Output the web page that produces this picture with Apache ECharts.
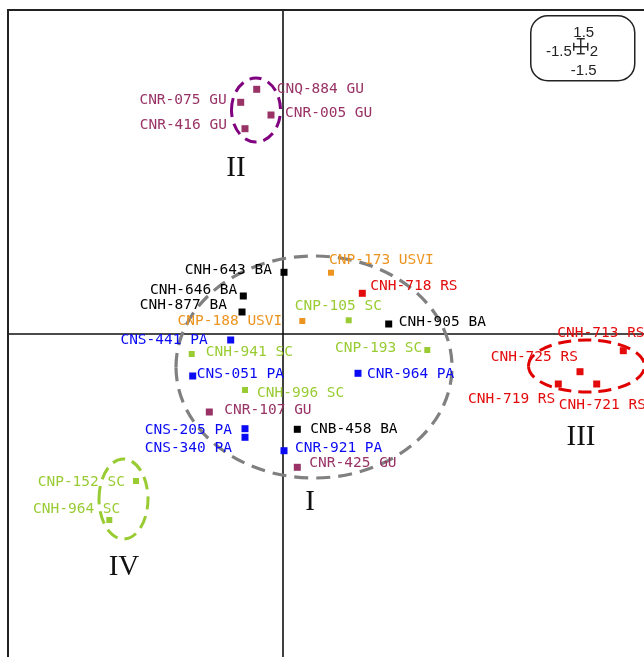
<!DOCTYPE html>
<html><head><meta charset="utf-8">
<script src="https://cdn.jsdelivr.net/npm/echarts@6/dist/echarts.min.js"></script>
<style>html,body{margin:0;padding:0;background:#fff}#c{width:644px;height:657px}</style>
</head><body><div id="c"></div>
<script>
// sample names per region group
const gu = ['CNQ-884 GU','CNR-075 GU','CNR-005 GU','CNR-416 GU','CNR-107 GU','CNR-425 GU'];
const guX = [-0.263,-0.423,-0.12,-0.38,-0.737,0.143];
const guY = [2.447,2.317,2.19,2.053,-0.78,-1.333];

const ba = ['CNH-643 BA','CNH-646 BA','CNH-877 BA','CNH-905 BA','CNB-458 BA'];
const baX = [0.01,-0.397,-0.41,1.057,0.143];
const baY = [0.617,0.38,0.22,0.10,-0.953];

const usvi = ['CNP-173 USVI','CNP-188 USVI'];
const usviX = [0.48,0.193];
const usviY = [0.613,0.13];

const rs = ['CNH-718 RS','CNH-713 RS','CNH-725 RS','CNH-719 RS','CNH-721 RS'];
const rsX = [0.793,3.403,2.97,2.753,3.137];
const rsY = [0.407,-0.167,-0.377,-0.5,-0.5];

const sc = ['CNP-105 SC','CNH-941 SC','CNP-193 SC','CNH-996 SC','CNP-152 SC','CNH-964 SC'];
const scX = [0.657,-0.913,1.443,-0.38,-1.47,-1.737];
const scY = [0.137,-0.2,-0.16,-0.56,-1.47,-1.86];

const pa = ['CNS-441 PA','CNS-051 PA','CNR-964 PA','CNS-205 PA','CNS-340 PA','CNR-921 PA'];
const paX = [-0.523,-0.903,0.75,-0.38,-0.38,0.01];
const paY = [-0.06,-0.42,-0.393,-0.947,-1.033,-1.167];

// cluster ellipses: centre x, centre y, radius x, radius y
const clusterNames = ['I','II','III','IV'];
const clusterCX = [0.31,-0.27,3.035,-1.595];
const clusterCY = [-0.33,2.24,-0.32,-1.65];
const clusterRX = [1.38,0.245,0.58,0.245];
const clusterRY = [1.11,0.32,0.26,0.40];
// cluster numeral positions
const numeralX = [0.27,-0.47,2.98,-1.59];
const numeralY = [-1.68,1.66,-1.03,-2.33];

// inset scale labels
const insetTop = '1.5', insetLeft = '-1.5', insetRight = '2', insetBottom = '-1.5';

// ---- styling (label placement in px) ----
const labelLayout = {
 'CNQ-884 GU':['left',20,0],'CNR-075 GU':['right',-14,-2],'CNR-005 GU':['left',14,-2],'CNR-416 GU':['right',-18,-3],
 'CNR-107 GU':['left',15,-2],'CNR-425 GU':['left',12,-4],
 'CNH-643 BA':['right',-12,-2],'CNH-646 BA':['right',-6,-6],'CNH-877 BA':['right',-15,-7],'CNH-905 BA':['left',10,-2],'CNB-458 BA':['left',13,0],
 'CNP-173 USVI':['left',-2,-12],'CNP-188 USVI':['right',-20,0],
 'CNH-718 RS':['left',8,-7],'CNH-713 RS':['left',-66,-17],'CNH-725 RS':['right',-2,-14],'CNH-719 RS':['right',-3,15],'CNH-721 RS':['left',-38,21],
 'CNP-105 SC':['left',-54,-14],'CNH-941 SC':['left',14,-2],'CNP-193 SC':['right',-5,-2],'CNH-996 SC':['left',12,3],'CNP-152 SC':['right',-11,1],'CNH-964 SC':['right',11,-11],
 'CNS-441 PA':['right',-23,0],'CNS-051 PA':['left',4,-2],'CNR-964 PA':['left',9,1],'CNS-205 PA':['right',-13,2],'CNS-340 PA':['right',-13,11],'CNR-921 PA':['left',11,-2]
};
const groupColor = {gu:'#993366', ba:'#000000', usvi:'#EC9420', rs:'#E30B0B', sc:'#99CC33', pa:'#0A0AF5'};
const ellipseColor = ['#808080','#800080','#E00000','#99CC33'];

function mk(names, xs, ys, color, size){
  return {
    type:'scatter', symbol:'rect', symbolSize:size, itemStyle:{color:color, opacity:1}, z:5,
    data: names.map((n,i)=>{
      const L = labelLayout[n];
      return {name:n, value:[xs[i],ys[i]], label:{show:true, formatter:n, position:'inside', align:L[0], verticalAlign:'middle', offset:[L[1],L[2]], color:color, opacity:1, fontFamily:'DejaVu Sans Mono', fontSize:14.5}};
    }),
    emphasis:{disabled:true},
    animation:false
  };
}

const insetFont = '15px "Liberation Sans"';
const chart = echarts.init(document.getElementById('c'), null, {renderer:'canvas'});
const option = {
  animation:false,
  grid:{left:8, top:10, width:720, height:720, outerBoundsMode:'none', containLabel:false, show:false},
  xAxis:{type:'value', min:-2.75, max:4.45, axisLine:{onZero:true, lineStyle:{color:'#111', width:1.6}}, axisTick:{show:false}, axisLabel:{show:false}, splitLine:{show:false}},
  yAxis:{type:'value', min:-3.96, max:3.24, axisLine:{onZero:true, lineStyle:{color:'#111', width:1.6}}, axisTick:{show:false}, axisLabel:{show:false}, splitLine:{show:false}},
  series:[
    {
      type:'custom', z:3,
      data: clusterNames.map((n,i)=>[clusterCX[i],clusterCY[i],clusterRX[i],clusterRY[i],i]),
      renderItem:function(params, api){
        const c = api.coord([api.value(0), api.value(1)]);
        const s = api.size([api.value(2), api.value(3)]);
        const i = api.value(4);
        const w = i===0 ? 3.2 : 3;
        const dash = i===0 ? [14,8] : (i===1 ? [12,7] : [13,7]);
        return {type:'ellipse', shape:{cx:c[0], cy:c[1], rx:s[0], ry:s[1]},
          style:{fill:'none', stroke:ellipseColor[i], lineWidth:w, lineDash:dash}};
      },
      animation:false
    },
    {
      type:'scatter', symbolSize:0, z:4, itemStyle:{opacity:1},
      data: clusterNames.map((n,i)=>({name:n, value:[numeralX[i],numeralY[i]]})),
      label:{show:true, position:'inside', formatter:p=>p.name, fontFamily:'Liberation Serif', fontSize:29, color:'#111'},
      animation:false
    },
    mk(gu, guX, guY, groupColor.gu, 7),
    mk(ba, baX, baY, groupColor.ba, 7),
    mk(usvi, usviX, usviY, groupColor.usvi, 6),
    mk(rs, rsX, rsY, groupColor.rs, 7),
    mk(sc, scX, scY, groupColor.sc, 6),
    mk(pa, paX, paY, groupColor.pa, 7)
  ],
  graphic:[
    {type:'line', shape:{x1:8, y1:10, x2:8, y2:700}, style:{stroke:'#222', lineWidth:2}, z:8},
    {type:'line', shape:{x1:7, y1:10, x2:700, y2:10}, style:{stroke:'#222', lineWidth:2}, z:8},
    {type:'group', left:530, top:15, z:10, children:[
      {type:'rect', shape:{x:0,y:0,width:104,height:65,r:17}, style:{fill:'#fff', stroke:'#222', lineWidth:1.5}},
      {type:'text', x:53, y:17, style:{text:insetTop, fill:'#222', font:insetFont, align:'center', verticalAlign:'middle'}},
      {type:'text', x:41, y:36, style:{text:insetLeft, fill:'#222', font:insetFont, align:'right', verticalAlign:'middle'}},
      {type:'text', x:59, y:36, style:{text:insetRight, fill:'#222', font:insetFont, align:'left', verticalAlign:'middle'}},
      {type:'text', x:53, y:55, style:{text:insetBottom, fill:'#222', font:insetFont, align:'center', verticalAlign:'middle'}},
      {type:'polyline', shape:{points:[[50,23],[50,38]]}, style:{stroke:'#222', lineWidth:1.4}},
      {type:'polyline', shape:{points:[[43,31],[57,31]]}, style:{stroke:'#222', lineWidth:1.4}},
      {type:'polyline', shape:{points:[[46,23],[54,23]]}, style:{stroke:'#222', lineWidth:1.4}},
      {type:'polyline', shape:{points:[[46,38],[54,38]]}, style:{stroke:'#222', lineWidth:1.4}},
      {type:'polyline', shape:{points:[[43,27],[43,35]]}, style:{stroke:'#222', lineWidth:1.4}},
      {type:'polyline', shape:{points:[[57,27],[57,35]]}, style:{stroke:'#222', lineWidth:1.4}}
    ]}
  ]
};
chart.setOption(option);
</script></body></html>
